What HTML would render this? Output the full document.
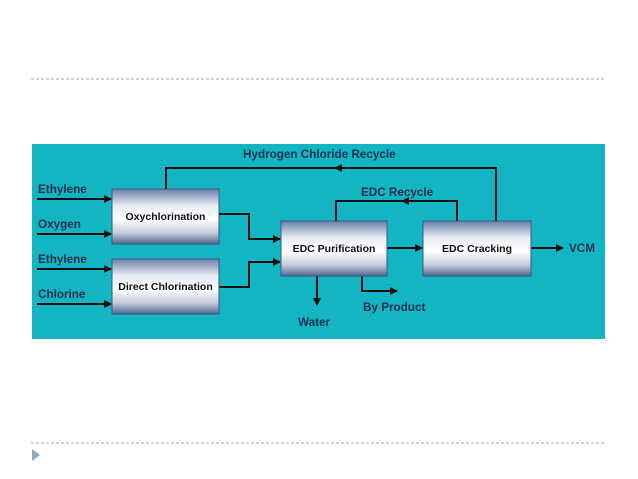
<!DOCTYPE html>
<html><head><style>
html,body{margin:0;padding:0;background:#fff;}
</style></head><body>
<svg width="638" height="479" xmlns="http://www.w3.org/2000/svg" style="display:block">
<defs>
<linearGradient id="g" x1="0" y1="0" x2="0" y2="1">
<stop offset="0" stop-color="#6a7fa8"/>
<stop offset="0.3" stop-color="#e6eaf2"/>
<stop offset="0.55" stop-color="#ffffff"/>
<stop offset="0.8" stop-color="#c3cbdb"/>
<stop offset="1" stop-color="#506690"/>
</linearGradient>
<marker id="a" markerWidth="8" markerHeight="8" refX="7" refY="4" orient="auto" markerUnits="userSpaceOnUse">
<path d="M0,0 L8,4 L0,8 z" fill="#111"/>
</marker>
</defs>
<line x1="31" y1="79" x2="606" y2="79" stroke="#9aa6b0" stroke-width="1" stroke-dasharray="3,2"/>
<line x1="31" y1="443" x2="606" y2="443" stroke="#9aa6b0" stroke-width="1" stroke-dasharray="3,2"/>
<path d="M32,449 L40,455 L32,461 z" fill="#94a9c0"/>
<rect x="32" y="144" width="573" height="195" fill="#13b5c3"/>
<g stroke="#111" stroke-width="2" fill="none">
<line x1="37" y1="199" x2="111" y2="199" marker-end="url(#a)"/>
<line x1="37" y1="234" x2="111" y2="234" marker-end="url(#a)"/>
<line x1="37" y1="269" x2="111" y2="269" marker-end="url(#a)"/>
<line x1="37" y1="304" x2="111" y2="304" marker-end="url(#a)"/>
<polyline points="219,214 249,214 249,239 280,239" marker-end="url(#a)"/>
<polyline points="219,287 249,287 249,262 280,262" marker-end="url(#a)"/>
<polyline points="496,221 496,168 166,168 166,189"/>
<polyline points="457,221 457,201 336,201 336,221"/>
<line x1="387" y1="248" x2="422" y2="248" marker-end="url(#a)"/>
<line x1="531" y1="248" x2="563" y2="248" marker-end="url(#a)"/>
<line x1="317" y1="276" x2="317" y2="305" marker-end="url(#a)"/>
<polyline points="362,276 362,291 397,291" marker-end="url(#a)"/>
</g>
<path d="M334,168 L342,164 L342,172 z" fill="#111"/>
<path d="M401,201 L409,197 L409,205 z" fill="#111"/>
<g stroke="#3d5680" stroke-width="1">
<rect x="112" y="189" width="107" height="55" fill="url(#g)"/>
<rect x="112" y="259" width="107" height="55" fill="url(#g)"/>
<rect x="281" y="221" width="106" height="55" fill="url(#g)"/>
<rect x="423" y="221" width="108" height="55" fill="url(#g)"/>
</g>
<g font-family="Liberation Sans, sans-serif" font-weight="bold" font-size="10.5" fill="#111">
<text x="165.5" y="220" text-anchor="middle">Oxychlorination</text>
<text x="165.5" y="290" text-anchor="middle">Direct Chlorination</text>
<text x="334" y="252" text-anchor="middle">EDC Purification</text>
<text x="477" y="252" text-anchor="middle">EDC Cracking</text>
</g>
<g font-family="Liberation Sans, sans-serif" font-weight="bold" font-size="11.7" fill="#1a2f4f">
<text x="38" y="193">Ethylene</text>
<text x="38" y="228">Oxygen</text>
<text x="38" y="263">Ethylene</text>
<text x="38" y="298">Chlorine</text>
<text x="243" y="158">Hydrogen Chloride Recycle</text>
<text x="361" y="196">EDC Recycle</text>
<text x="569" y="252">VCM</text>
<text x="298" y="326">Water</text>
<text x="363" y="311">By Product</text>
</g>
</svg>
</body></html>
